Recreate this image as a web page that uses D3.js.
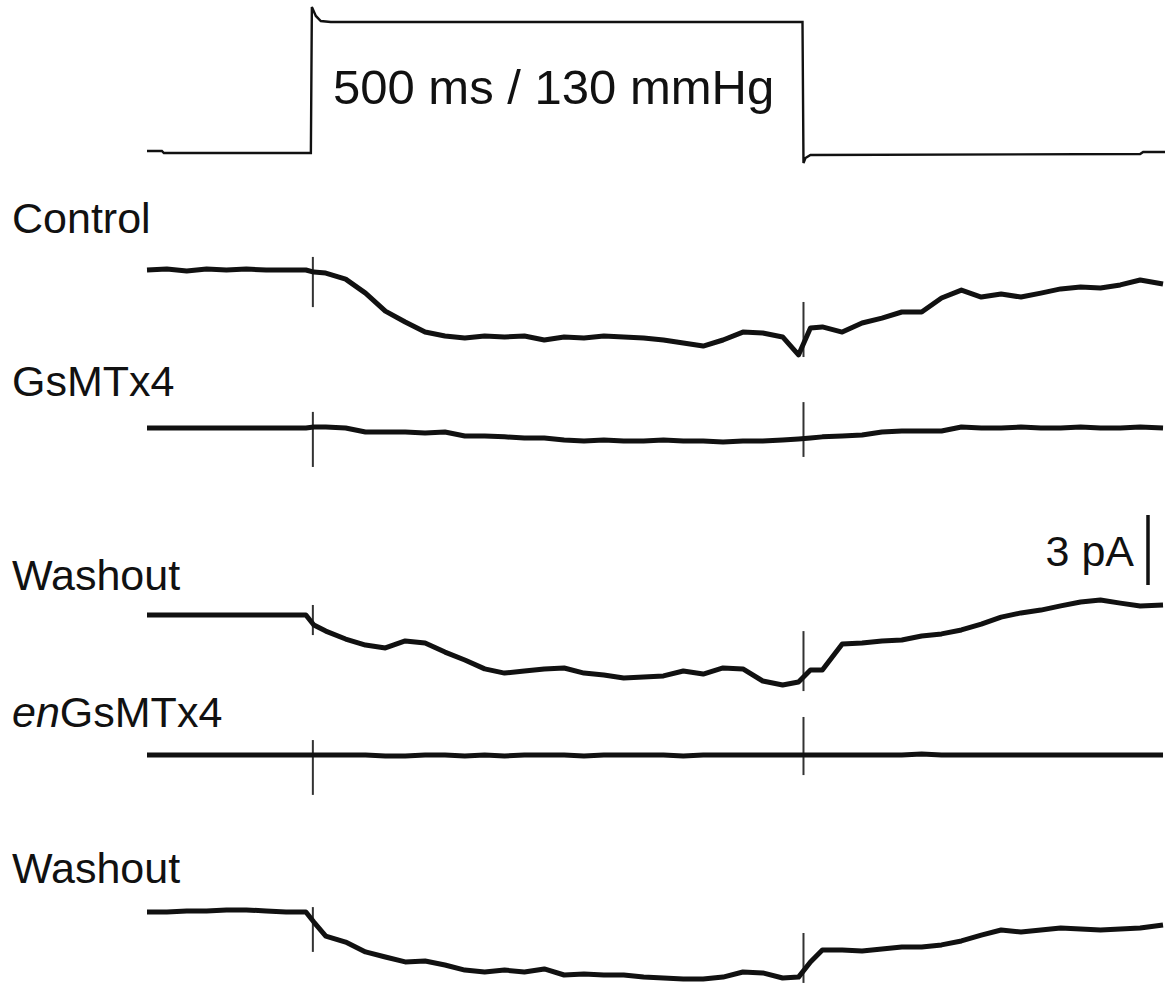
<!DOCTYPE html>
<html>
<head>
<meta charset="utf-8">
<script src="https://cdn.jsdelivr.net/npm/d3@7"></script>
<style>
  body { margin: 0; background: #fff; }
  text { font-family: "Liberation Sans", Arial, sans-serif; fill: #111; }
</style>
</head>
<body>
<svg id="chart"></svg>
<script>
// time samples (ms) shared by all current traces
var timeMs = [0, 20, 40, 60, 80, 100, 120, 140, 160, 168,
  180, 200, 220, 240, 260, 280, 300, 320, 340, 360, 380, 400, 420, 440, 460, 480,
  500, 520, 540, 560, 580, 600, 620, 640, 656, 668,
  680, 700, 720, 740, 760, 780, 800, 820, 840, 860, 880, 900, 920, 940, 960, 980, 1000, 1023];

// currents (pA, relative to pre-stimulus level)
var controlPA = [0, 0.04, -0.04, 0.04, 0, 0.04, 0, 0, 0, -0.09,
  -0.13, -0.39, -0.99, -1.76, -2.23, -2.66, -2.83, -2.91, -2.83, -2.87, -2.83, -3.00, -2.87, -2.91, -2.83, -2.87,
  -2.91, -3.00, -3.13, -3.26, -3.00, -2.66, -2.70, -2.87, -3.64, -2.49,
  -2.44, -2.66, -2.27, -2.06, -1.80, -1.80, -1.20, -0.86, -1.16, -1.03, -1.16, -0.99, -0.81, -0.73, -0.77, -0.64, -0.43, -0.60];
var gsmtx4PA = [0, 0, 0, 0, 0, 0, 0, 0, 0, 0.04,
  0.04, 0, -0.17, -0.17, -0.17, -0.21, -0.17, -0.34, -0.34, -0.38, -0.43, -0.43, -0.51, -0.56, -0.51, -0.56,
  -0.56, -0.51, -0.56, -0.56, -0.60, -0.56, -0.56, -0.51, -0.47, -0.43,
  -0.38, -0.34, -0.30, -0.17, -0.13, -0.13, -0.13, 0.04, 0, 0, 0.04, 0, 0, 0.04, 0, 0, 0.04, 0];
var washout1PA = [0, 0, 0, 0, 0, 0, 0, 0, 0, -0.43,
  -0.69, -1.03, -1.29, -1.41, -1.11, -1.20, -1.59, -1.93, -2.31, -2.49, -2.40, -2.31, -2.27, -2.49, -2.57, -2.70,
  -2.66, -2.61, -2.40, -2.53, -2.27, -2.31, -2.83, -3.00, -2.87, -2.36,
  -2.36, -1.24, -1.20, -1.11, -1.07, -0.90, -0.81, -0.64, -0.39, -0.09, 0.09, 0.21, 0.39, 0.56, 0.64, 0.51, 0.39, 0.43];
var enGsmtx4PA = [0, 0, 0, 0, 0, 0, 0, 0, 0, 0,
  0, 0, 0, -0.04, -0.04, 0, 0, -0.04, 0, -0.04, 0, 0, 0, -0.04, 0, 0,
  0, 0, -0.04, 0, 0, 0, 0, 0, 0, 0,
  0, 0, 0, 0, 0, 0.04, 0, 0, 0, 0, 0, 0, 0, 0, 0, 0, 0, 0];
var washout2PA = [0, 0, 0.04, 0.04, 0.09, 0.09, 0.04, 0, 0, -0.43,
  -1.03, -1.29, -1.71, -1.93, -2.14, -2.10, -2.27, -2.49, -2.57, -2.49, -2.57, -2.44, -2.70, -2.66, -2.70, -2.70,
  -2.79, -2.83, -2.87, -2.87, -2.79, -2.57, -2.61, -2.83, -2.79, -2.14,
  -1.63, -1.63, -1.67, -1.59, -1.50, -1.50, -1.41, -1.24, -0.99, -0.77, -0.86, -0.77, -0.69, -0.73, -0.77, -0.73, -0.69, -0.56];

// pressure step
var stimTimeMs = [0, 15, 17, 165, 166, 170, 175, 185, 660, 661, 663, 668, 1000, 1003, 1025];
var stimMmHg = [2, 2, 0, 0, 145, 136, 131, 130, 130, -10, -5, -2, -1, 1, 1];

// stimulus artifacts: [top pA, bottom pA] per trace, at onset and offset
var artifactTimes = [167, 661];
var controlArt = [[0.56, -1.59], [-1.37, -3.73]];
var gsmtx4Art = [[0.69, -1.67], [1.11, -1.24]];
var washout1Art = [[0.43, -0.86], [-0.69, -3.26]];
var enGsmtx4Art = [[0.64, -1.71], [1.63, -0.86]];
var washout2Art = [[0.21, -1.71], [-0.90, -3.04]];

var traceLabels = ["Control", "GsMTx4", "Washout", "enGsMTx4", "Washout"];
var scaleBarPA = 3;

var width = 1172, height = 992;
var svg = d3.select("#chart").attr("width", width).attr("height", height);

var x = d3.scaleLinear().domain([0, 1025]).range([147, 1165]);
var pa = d3.scaleLinear().domain([0, 3]).range([0, 70]); // 3 pA = 70 px
var yStim = d3.scaleLinear().domain([0, 130]).range([153, 22]);

// layout of each row: trace baseline and label baseline
var rows = [
  { values: controlPA, art: controlArt, base: 270, labelY: 233 },
  { values: gsmtx4PA, art: gsmtx4Art, base: 428, labelY: 396 },
  { values: washout1PA, art: washout1Art, base: 615, labelY: 590 },
  { values: enGsmtx4PA, art: enGsmtx4Art, base: 755, labelY: 727 },
  { values: washout2PA, art: washout2Art, base: 912, labelY: 883 }
];

// stimulus trace
var stimLine = d3.line()
  .x(function(d, i) { return x(stimTimeMs[i]); })
  .y(function(d) { return yStim(d); });

svg.append("path")
  .attr("d", stimLine(stimMmHg))
  .attr("fill", "none")
  .attr("stroke", "#111")
  .attr("stroke-width", 2.4);

svg.append("text")
  .attr("x", 333)
  .attr("y", 104)
  .attr("font-size", 49)
  .text("500 ms / 130 mmHg");

rows.forEach(function(row, r) {
  var line = d3.line()
    .x(function(d, i) { return x(timeMs[i]); })
    .y(function(d) { return row.base - pa(d); });

  // artifacts drawn thin
  row.art.forEach(function(a, k) {
    svg.append("line")
      .attr("x1", x(artifactTimes[k])).attr("x2", x(artifactTimes[k]))
      .attr("y1", row.base - pa(a[0]))
      .attr("y2", row.base - pa(a[1]))
      .attr("stroke", "#333")
      .attr("stroke-width", 2);
  });

  svg.append("path")
    .attr("d", line(row.values))
    .attr("fill", "none")
    .attr("stroke", "#111")
    .attr("stroke-width", 5)
    .attr("stroke-linejoin", "round");

  var t = svg.append("text")
    .attr("x", 12)
    .attr("y", row.labelY)
    .attr("font-size", 43);
  if (traceLabels[r] === "enGsMTx4") {
    t.append("tspan").attr("font-style", "italic").text("en");
    t.append("tspan").text("GsMTx4");
  } else {
    t.text(traceLabels[r]);
  }
});

// scale bar
var barMid = 550;
svg.append("line")
  .attr("x1", 1148).attr("x2", 1148)
  .attr("y1", barMid - pa(scaleBarPA) / 2)
  .attr("y2", barMid + pa(scaleBarPA) / 2)
  .attr("stroke", "#111")
  .attr("stroke-width", 3.5);

svg.append("text")
  .attr("x", 1134)
  .attr("y", 566)
  .attr("font-size", 43)
  .attr("text-anchor", "end")
  .text(scaleBarPA + " pA");
</script>
</body>
</html>
